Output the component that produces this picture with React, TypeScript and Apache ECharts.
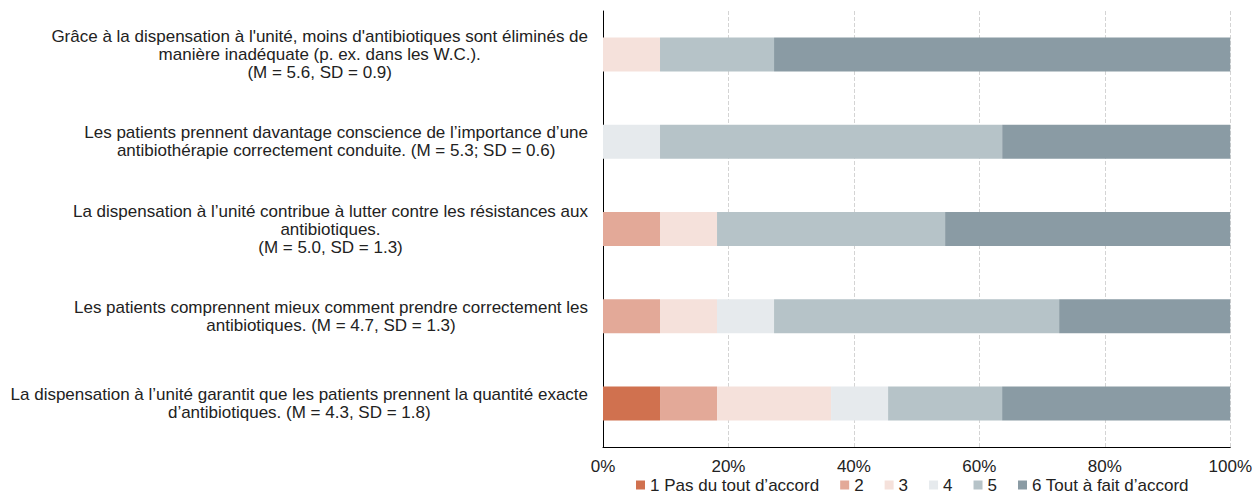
import React, { useEffect, useRef } from "react";
import * as echarts from "echarts";

const categories = [
  "Grâce à la dispensation à l'unité, moins d'antibiotiques sont éliminés de\nmanière inadéquate (p. ex. dans les W.C.).\n(M = 5.6, SD = 0.9)",
  "Les patients prennent davantage conscience de l’importance d’une\nantibiothérapie correctement conduite. (M = 5.3; SD = 0.6)",
  "La dispensation à l’unité contribue à lutter contre les résistances aux\nantibiotiques.\n(M = 5.0, SD = 1.3)",
  "Les patients comprennent mieux comment prendre correctement les\nantibiotiques. (M = 4.7, SD = 1.3)",
  "La dispensation à l’unité garantit que les patients prennent la quantité exacte\nd’antibiotiques. (M = 4.3, SD = 1.8)",
];

const seriesNames = [
  "1 Pas du tout d’accord",
  "2",
  "3",
  "4",
  "5",
  "6 Tout à fait d’accord",
];

const s1 = [0, 0, 0, 0, 9.09];
const s2 = [0, 0, 9.09, 9.09, 9.09];
const s3 = [9.09, 0, 9.09, 9.09, 18.18];
const s4 = [0, 9.09, 0, 9.09, 9.09];
const s5 = [18.18, 54.55, 36.36, 45.45, 18.18];
const s6 = [72.73, 36.36, 45.45, 27.27, 36.36];

const seriesValues = [s1, s2, s3, s4, s5, s6];
const colors = ["#D0714F", "#E3A998", "#F5E1DB", "#E6EAED", "#B6C3C8", "#8A9BA4"];

const xTicks = [0, 20, 40, 60, 80, 100];

export default function App() {
  const ref = useRef<HTMLDivElement>(null);
  useEffect(() => {
    document.body.style.margin = "0";
    const chart = echarts.init(ref.current!, null, { renderer: "svg" });
    const font = "'Liberation Sans', Arial, sans-serif";
    const txt = "#222";
    chart.setOption({
      animation: false,
      textStyle: { fontFamily: font },
      grid: { left: 603, right: 17, top: 11, bottom: 48, containLabel: false },
      legend: {
        left: 636,
        top: 476,
        padding: 0,
        icon: "rect",
        itemWidth: 9,
        itemHeight: 9,
        itemGap: 21,
        textStyle: { fontSize: 17, color: txt, fontFamily: font, lineHeight: 18 },
        data: seriesNames,
      },
      xAxis: {
        type: "value",
        min: xTicks[0],
        max: xTicks[xTicks.length - 1],
        interval: 20,
        axisLine: { show: true, lineStyle: { color: "#000", width: 1 } },
        axisTick: { show: false },
        axisLabel: {
          formatter: "{value}%",
          fontSize: 17,
          color: txt,
          margin: 11,
          fontFamily: font,
        },
        splitLine: {
          show: true,
          lineStyle: { color: "#d4d4d4", type: "dashed", width: 1 },
        },
      },
      yAxis: {
        type: "category",
        inverse: true,
        data: categories,
        axisLine: { show: true, lineStyle: { color: "#000", width: 1 } },
        axisTick: { show: false },
        axisLabel: {
          fontSize: 17,
          color: txt,
          margin: 15,
          lineHeight: 18,
          fontFamily: font,
          formatter: (v: string) =>
            v
              .split("\n")
              .map((l) => "{c|" + l + "}")
              .join("\n"),
          rich: {
            c: {
              align: "center",
              fontSize: 17,
              lineHeight: 18,
              color: txt,
              fontFamily: font,
            },
          },
        },
      },
      series: seriesValues.map((vals, i) => ({
        name: seriesNames[i],
        type: "bar",
        stack: "total",
        barWidth: 34,
        itemStyle: { color: colors[i] },
        emphasis: { disabled: true },
        data: vals,
      })),
    });
    return () => chart.dispose();
  }, []);
  return <div ref={ref} style={{ width: 1255, height: 495 }} />;
}
